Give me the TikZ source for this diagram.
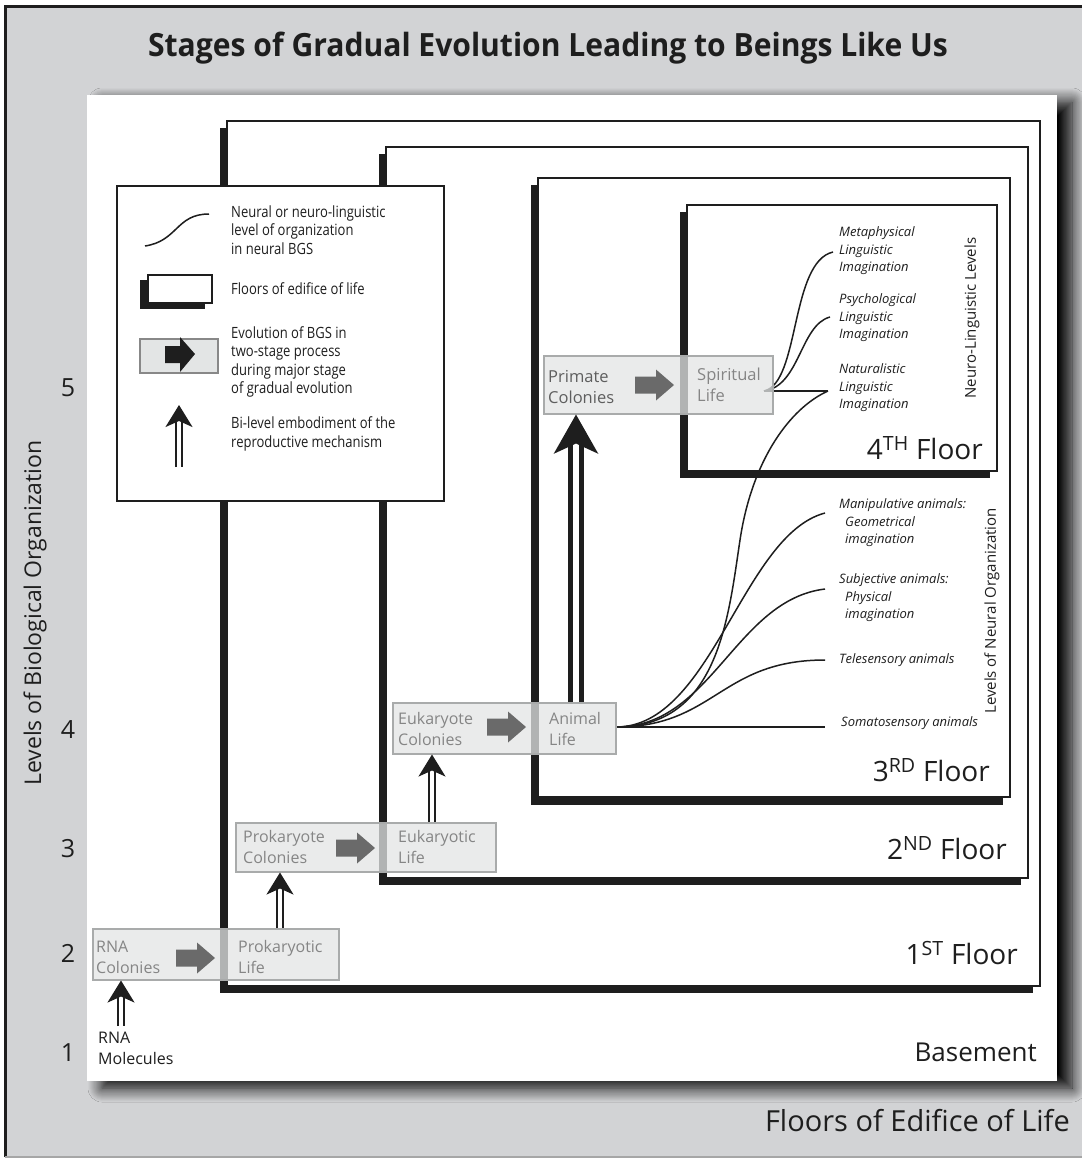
\documentclass[tikz,border=0pt]{standalone}
\usepackage{fontspec}
\setmainfont{Open Sans}
\newfontfamily\condfont[FakeStretch=0.84]{Open Sans}
\newfontfamily\titlefont[FakeStretch=0.94]{Open Sans}
\usetikzlibrary{arrows.meta,shadows.blur,calc}
\definecolor{bggray}{HTML}{D2D3D5}
\definecolor{boxfill}{HTML}{E3E5E5}
\definecolor{boxline}{HTML}{A9ABAB}
\definecolor{boxtext}{HTML}{858585}
\definecolor{boxtextdark}{HTML}{5E5E5E}
\definecolor{inkblack}{HTML}{1E1E1E}
\definecolor{arrgray}{HTML}{6A6A6A}
\tikzset{
  floorbox/.style={draw=inkblack, line width=2pt, fill=white},
  floorshade/.style={fill=inkblack},
  stagebox/.style={draw=boxline, line width=1.5pt, fill=boxfill, fill opacity=0.75, inner sep=0pt, rectangle, anchor=north west},
  stagetext/.style={text=boxtext, font=\fontsize{16}{21}\selectfont, align=left, anchor=west, inner sep=0pt},
  legendtext/.style={font=\condfont\fontsize{15.5}{18.3}\selectfont, align=left, anchor=west, inner sep=0pt, text=inkblack},
  leveltext/.style={font=\itshape\fontsize{13}{17.5}\selectfont, align=left, anchor=west, inner sep=0pt, text=inkblack},
  floorlabel/.style={font=\fontsize{28}{30}\selectfont, anchor=east, inner sep=0pt, text=inkblack},
  axisnum/.style={font=\fontsize{25}{28}\selectfont, inner sep=0pt, text=inkblack},
  sidelabel/.style={font=\fontsize{15}{18}\selectfont, rotate=90, inner sep=0pt, text=inkblack},
  curve/.style={draw=inkblack, line width=1.5pt},
  repro/.style={draw=inkblack, double=white, line width=2pt, double distance=4pt, -{Stealth[length=22pt,width=27pt,inset=6pt]}},
  bigrepro/.style={draw=inkblack, double=white, line width=4.5pt, double distance=6.5pt, -{Stealth[length=39pt,width=44pt,inset=10pt]}},
  fatarrow/.pic={\fill[arrgray] (0,-8.5) -- (21,-8.5) -- (21,-15.5) -- (39,0) -- (21,15.5) -- (21,8.5) -- (0,8.5) -- cycle;}
}
\begin{document}
\begin{tikzpicture}[x=1pt,y=-1pt]
\useasboundingbox (0,0) rectangle (1082,1160);
\fill[white] (0,0) rectangle (1082,1160);
\fill[bggray] (5,6) rectangle (1082,1157);
\draw[inkblack, line width=3pt] (5,1157) -- (5,6) -- (1082,6);
\draw[gray!70, line width=1.5pt] (5,1157) -- (1082,1157);

% title
\node[font=\titlefont\bfseries\fontsize{32}{36}\selectfont, text=inkblack, inner sep=0pt] (title) at (548,48) {Stages of Gradual Evolution Leading to Beings Like Us};

% white panel (basement)
\fill[white, blur shadow={shadow xshift=15pt, shadow yshift=-7pt, shadow blur radius=14pt, shadow blur steps=14, shadow opacity=100}] (87,95) rectangle (1057,1081);

% floors
\fill[floorshade] (220,128) rectangle (1033,993);
\draw[floorbox] (227,121) rectangle (1040,986);
\fill[floorshade] (379,154) rectangle (1021,885);
\draw[floorbox] (386,147) rectangle (1028,878);
\fill[floorshade] (531,185) rectangle (1003,805);
\draw[floorbox] (538,178) rectangle (1010,797);
\fill[floorshade] (680,212) rectangle (990,478);
\draw[floorbox] (687,205) rectangle (997,471);

% legend
\node[draw=inkblack, line width=2pt, fill=white, minimum width=327pt, minimum height=315pt, anchor=north west, inner sep=0pt] (legend) at (116,185) {};
\draw[curve] (145,246) .. controls (178,241) and (176,214) .. (209,214);
\node[legendtext] (lg1) at (231,230) {Neural or neuro-linguistic\\level of organization\\in neural BGS};
\fill[floorshade] (140,280) rectangle (205,309);
\draw[floorbox] (148,275) rectangle (212,303);
\node[legendtext] (lg2) at (231,289) {Floors of edifice of life};
\node[draw=arrgray!80, line width=1.5pt, fill=boxfill, minimum width=78pt, minimum height=34pt, anchor=north west, inner sep=0pt] (lgbox) at (139,338) {};
\fill[inkblack] (165,346) -- (180,346) -- (180,337) -- (195,354) -- (180,372) -- (180,363) -- (165,363) -- cycle;
\node[legendtext] (lg3) at (231,362) {Evolution of BGS in\\two-stage process\\during major stage\\of gradual evolution};
\coordinate (lgfoot) at (179,467);
\coordinate (lgtip) at (179,405);
\draw[repro] (lgfoot) -- (lgtip);
\node[legendtext] (lg4) at (231,434) {Bi-level embodiment of the\\reproductive mechanism};

% neural curves from Animal Life
\coordinate (animalout) at (616,727);
\coordinate (soma) at (825,727);
\coordinate (tele) at (825,660);
\coordinate (subj) at (825,589);
\coordinate (manip) at (825,513);
\coordinate (cusp) at (828,391);
\draw[curve] (animalout) -- (soma);
\draw[curve] (animalout) .. controls (715,727) and (720,660) .. (tele);
\draw[curve] (animalout) .. controls (712,727) and (735,600) .. (subj);
\draw[curve] (animalout) .. controls (712,727) and (742,535) .. (manip);
\draw[curve] (animalout) .. controls (718,727) and (728,620) .. (740,540) .. controls (752,460) and (790,408) .. (cusp);

% neuro-linguistic curves from Spiritual Life
\coordinate (spiritout) at (764,391);
\coordinate (psych) at (830,317);
\coordinate (meta) at (833,252);
\draw[curve] (spiritout) -- (cusp);
\draw[curve] (spiritout) .. controls (800,386) and (800,325) .. (psych);
\draw[curve] (spiritout) .. controls (800,383) and (790,262) .. (meta);

% stage boxes
\node[stagebox, minimum width=246pt, minimum height=51pt] (s1) at (92,928) {};
\node[stagebox, minimum width=260pt, minimum height=49pt] (s2) at (235,822) {};
\node[stagebox, minimum width=223pt, minimum height=51pt] (s3) at (392,702) {};
\node[stagebox, minimum width=229pt, minimum height=58pt] (s4) at (543,355) {};
\pic at (176,958) {fatarrow};
\pic at (336,848) {fatarrow};
\pic at (487,727) {fatarrow};
\pic at (635,385) {fatarrow};
\node[stagetext] (rnacol) at (96,957) {RNA\\Colonies};
\node[stagetext] (prolife) at (238,957) {Prokaryotic\\Life};
\node[stagetext] (procol) at (243,847) {Prokaryote\\Colonies};
\node[stagetext] (eukalife) at (398,847) {Eukaryotic\\Life};
\node[stagetext] (eukcol) at (398,729) {Eukaryote\\Colonies};
\node[stagetext] (animlife) at (549,729) {Animal\\Life};
\node[stagetext, text=boxtextdark, font=\fontsize{16.5}{21}\selectfont] (primcol) at (548,387) {Primate\\Colonies};
\node[stagetext, font=\fontsize{16.5}{21}\selectfont] (spirlife) at (697,385) {Spiritual\\Life};

% reproductive double arrows
\node[stagetext, text=inkblack, anchor=north west] (rnamol) at (98,1032) {RNA\\Molecules};
\coordinate (r1) at (121,1026);
\draw[repro] (r1) -- (r1 |- s1.south);
\coordinate (r2) at (280,928);
\draw[repro] (r2) -- (r2 |- s2.south);
\coordinate (r3) at (432,822);
\draw[repro] (r3) -- (r3 |- s3.south);
\coordinate (r4) at (576,702);
\draw[bigrepro] (r4) -- (r4 |- s4.south);

% level labels
\node[leveltext] (lmeta) at (839,251) {Metaphysical\\Linguistic\\Imagination};
\node[leveltext] (lpsych) at (839,318) {Psychological\\Linguistic\\Imagination};
\node[leveltext] (lnat) at (839,388) {Naturalistic\\Linguistic\\Imagination};
\node[leveltext] (lmanip) at (839,523) {Manipulative animals:\\\hspace*{6pt}Geometrical\\\hspace*{6pt}imagination};
\node[leveltext] (lsubj) at (839,598) {Subjective animals:\\\hspace*{6pt}Physical\\\hspace*{6pt}imagination};
\node[leveltext] (ltele) at (839,660) {Telesensory animals};
\node[leveltext] (lsoma) at (841,723) {Somatosensory animals};
\node[sidelabel] (nll) at (972,318) {Neuro-Linguistic Levels};
\node[sidelabel] (lno) at (992,611) {Levels of Neural Organization};

% floor labels
\node[floorlabel] (f4) at (983,448) {4\textsuperscript{TH} Floor};
\node[floorlabel] (f3) at (990,770) {3\textsuperscript{RD} Floor};
\node[floorlabel] (f2) at (1007,848) {2\textsuperscript{ND} Floor};
\node[floorlabel] (f1) at (1018,953) {1\textsuperscript{ST} Floor};
\node[floorlabel, font=\fontsize{26}{28}\selectfont] (base) at (1037,1052) {Basement};

% axes
\node[font=\fontsize{23}{26}\selectfont, rotate=90, inner sep=0pt, text=inkblack] (yaxis) at (35,613) {Levels of Biological Organization};
\node[axisnum] (n5) at (68,388) {5};
\node[axisnum] (n4) at (68,730) {4};
\node[axisnum] (n3) at (68,849) {3};
\node[axisnum] (n2) at (68,953) {2};
\node[axisnum] (n1) at (68,1053) {1};
\node[font=\fontsize{29}{31}\selectfont, anchor=east, inner sep=0pt, text=inkblack] (xaxis) at (1070,1121) {Floors of Edifice of Life};
\end{tikzpicture}
\end{document}
